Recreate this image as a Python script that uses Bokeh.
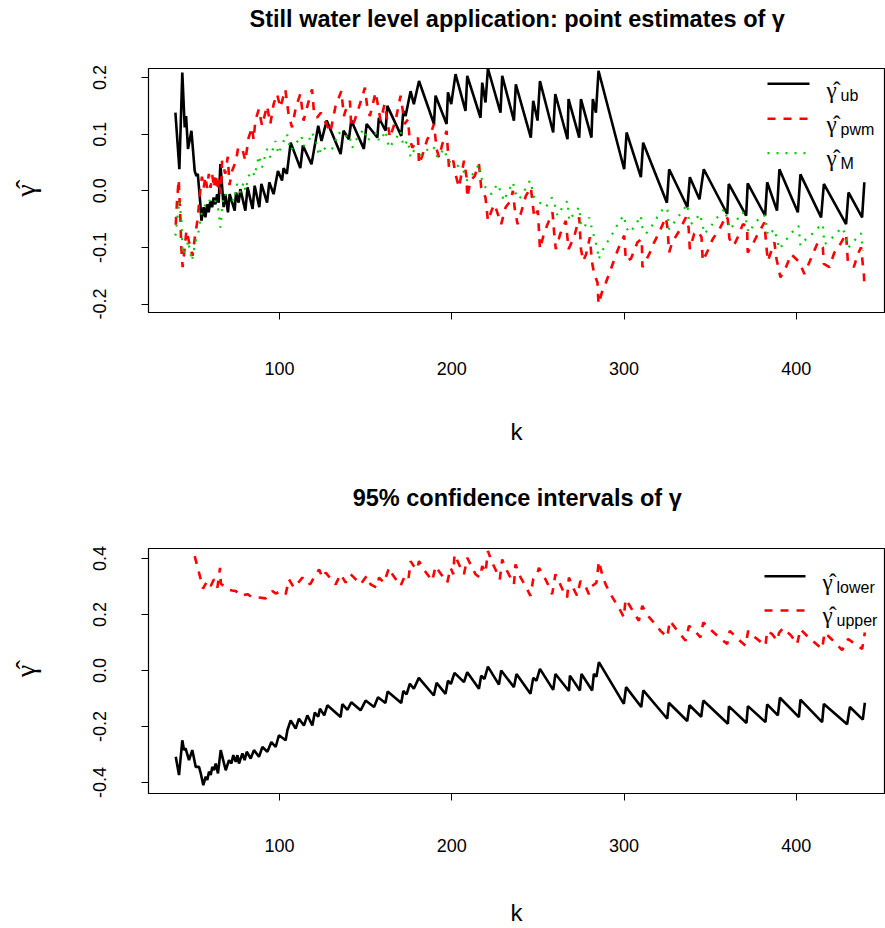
from bokeh.plotting import figure
from bokeh.layouts import column
from bokeh.models import Range1d, FixedTicker, PrintfTickFormatter, Arrow, Label
from bokeh.embed import file_html
from bokeh.resources import INLINE

# ---------------- data ----------------
UB = [(39.6, 0.138), (41.9, 0.038), (43.6, 0.209), (45.0, 0.112), (45.8, 0.132), (46.9, 0.074),
      (48.9, 0.106), (50.8, 0.035), (51.8, 0.026), (52.6, 0.030), (54.1, -0.024), (54.7, -0.053),
      (56.0, -0.029), (57.0, -0.047), (58.0, -0.024), (58.9, -0.038), (59.9, -0.018), (60.9, -0.029),
      (61.8, -0.012), (62.8, -0.024), (63.8, -0.006), (64.7, -0.021), (65.7, 0.047), (67.6, -0.029),
      (68.6, -0.006), (70.1, -0.038), (71.1, -0.006), (74.0, -0.035), (74.8, -0.003), (76.3, -0.021),
      (77.3, 0.003), (80.2, -0.035), (81.5, 0.006), (84.4, -0.032), (85.6, 0.009), (88.3, -0.029),
      (89.5, 0.012), (92.8, -0.021), (94.1, 0.015), (96.6, -0.006), (99.1, 0.035), (101.5, 0.018),
      (102.4, 0.040), (104.3, 0.030), (106.5, 0.085), (112.1, 0.040), (113.6, 0.080), (118.6, 0.047),
      (122.5, 0.115), (124.4, 0.088), (127.4, 0.124), (135.5, 0.065), (137.2, 0.106), (140.3, 0.091),
      (141.7, 0.124), (149.0, 0.074), (150.6, 0.118), (156.8, 0.094), (157.7, 0.129), (161.6, 0.106),
      (162.6, 0.150), (170.7, 0.097), (171.9, 0.141), (173.2, 0.132), (176.1, 0.176), (178.0, 0.153),
      (181.0, 0.194), (189.7, 0.118), (190.6, 0.168), (197.0, 0.118), (197.8, 0.174), (199.7, 0.153),
      (202.2, 0.206), (208.0, 0.141), (209.0, 0.203), (216.7, 0.129), (217.7, 0.191), (219.6, 0.156),
      (221.0, 0.216), (228.3, 0.138), (229.3, 0.203), (236.1, 0.124), (237.2, 0.188), (245.9, 0.094),
      (247.3, 0.159), (249.8, 0.124), (251.2, 0.194), (258.9, 0.103), (260.1, 0.171), (267.2, 0.091),
      (267.8, 0.162), (274.0, 0.094), (275.0, 0.162), (281.1, 0.094), (281.9, 0.162), (283.7, 0.138),
      (285.2, 0.212), (300.1, 0.038), (301.5, 0.103), (309.8, 0.024), (311.1, 0.085), (324.9, -0.021),
      (326.2, 0.038), (336.8, -0.029), (338.2, 0.024), (343.8, -0.015), (346.3, 0.038), (359.9, -0.041),
      (360.8, 0.012), (370.9, -0.044), (371.8, 0.013), (381.9, -0.044), (383.1, 0.015), (388.8, -0.035),
      (390.2, 0.038), (400.9, -0.038), (402.4, 0.029), (414.4, -0.047), (416.0, 0.012), (428.9, -0.059),
      (430.3, -0.003), (438.2, -0.047), (439.5, 0.015)]

PWM = [(39.8, -0.060), (40.5, -0.020), (41.5, 0.020), (42.5, -0.050), (43.0, -0.100), (43.8, -0.135),
       (45.0, -0.100), (46.0, -0.070), (47.5, -0.090), (49.5, -0.115), (51.0, -0.080), (52.5, -0.050),
       (54.0, 0.000), (55.0, 0.025), (56.0, 0.005), (57.0, 0.025), (58.0, 0.005), (59.0, 0.030),
       (60.0, 0.005), (61.0, 0.028), (62.0, 0.005), (63.0, 0.030), (64.0, 0.000), (65.0, 0.020),
       (66.0, -0.005), (66.7, 0.053), (68.5, 0.030), (70.0, 0.060), (71.0, 0.010), (72.5, 0.035),
       (74.8, 0.053), (76.0, 0.076), (78.3, 0.076), (80.2, 0.053), (82.1, 0.094), (84.1, 0.112),
       (85.0, 0.090), (86.0, 0.124), (88.0, 0.144), (89.9, 0.115), (92.8, 0.150), (94.7, 0.118),
       (96.6, 0.153), (98.6, 0.171), (100.5, 0.147), (103.4, 0.179), (105.3, 0.135), (107.3, 0.112),
       (109.5, 0.147), (112.1, 0.171), (114.0, 0.124), (116.5, 0.153), (118.9, 0.179), (120.0, 0.141),
       (121.8, 0.129), (124.0, 0.138), (126.0, 0.126), (129.5, 0.103), (132.6, 0.150), (135.9, 0.176),
       (137.4, 0.132), (138.3, 0.141), (140.9, 0.159), (141.7, 0.112), (143.6, 0.124), (146.7, 0.153),
       (149.6, 0.182), (151.0, 0.147), (152.5, 0.132), (155.8, 0.174), (157.4, 0.147), (158.7, 0.124),
       (161.0, 0.153), (162.6, 0.124), (164.1, 0.094), (167.4, 0.124), (170.3, 0.168), (171.9, 0.135),
       (172.6, 0.118), (174.6, 0.126), (175.5, 0.094), (177.1, 0.076), (179.6, 0.088), (180.4, 0.094),
       (181.0, 0.047), (182.9, 0.062), (185.8, 0.091), (187.7, 0.100), (189.7, 0.118), (191.2, 0.074),
       (192.6, 0.059), (194.5, 0.082), (197.0, 0.106), (198.4, 0.041), (200.9, 0.053), (202.2, 0.029),
       (204.2, 0.006), (207.1, 0.053), (208.6, 0.024), (209.0, -0.012), (210.9, 0.018), (213.3, 0.026),
       (215.8, 0.047), (217.1, 0.006), (219.6, -0.012), (221.0, -0.053), (223.5, -0.032), (224.9, -0.024),
       (228.7, -0.059), (231.3, -0.029), (234.1, -0.018), (235.5, 0.000), (236.5, -0.030), (238.2, -0.059),
       (240.0, -0.041), (243.0, -0.009), (245.9, 0.006), (247.9, -0.047), (250.0, -0.035), (251.2, -0.103),
       (253.5, -0.076), (255.6, -0.059), (258.5, -0.038), (259.5, -0.076), (260.4, -0.103), (263.0, -0.076),
       (266.2, -0.053), (267.8, -0.103), (271.0, -0.082), (274.0, -0.047), (275.0, -0.103), (276.3, -0.124),
       (278.0, -0.112), (280.2, -0.082), (281.3, -0.124), (282.7, -0.147), (284.6, -0.162), (285.2, -0.200),
       (287.5, -0.176), (289.5, -0.162), (292.4, -0.138), (296.2, -0.106), (298.2, -0.091), (300.1, -0.079),
       (301.1, -0.124), (304.0, -0.120), (307.8, -0.091), (310.3, -0.085), (310.7, -0.135), (314.6, -0.112),
       (317.5, -0.091), (320.0, -0.076), (324.3, -0.047), (325.2, -0.065), (326.2, -0.109), (328.0, -0.091),
       (332.0, -0.071), (335.9, -0.047), (337.5, -0.065), (338.2, -0.103), (340.7, -0.076), (342.8, -0.071),
       (345.0, -0.082), (345.7, -0.124), (348.6, -0.106), (351.5, -0.085), (355.4, -0.068), (359.3, -0.044),
       (360.2, -0.050), (361.2, -0.085), (363.7, -0.097), (366.0, -0.082), (369.0, -0.059), (371.4, -0.062),
       (371.8, -0.109), (374.8, -0.094), (376.7, -0.082), (381.5, -0.056), (382.5, -0.094), (383.5, -0.124),
       (387.3, -0.091), (388.5, -0.120), (390.8, -0.153), (394.0, -0.135), (397.0, -0.112), (401.8, -0.126),
       (404.7, -0.147), (409.6, -0.112), (412.5, -0.091), (415.4, -0.100), (416.0, -0.129), (419.2, -0.135),
       (422.1, -0.109), (425.0, -0.097), (428.9, -0.076), (429.9, -0.124), (433.4, -0.135), (435.7, -0.112),
       (437.6, -0.100), (439.2, -0.147), (439.6, -0.168)]

MLE = [(39.6, -0.079), (41.9, -0.018), (43.1, -0.053), (43.8, -0.112), (46.3, -0.100), (46.9, -0.088),
       (49.2, -0.124), (51.2, -0.090), (53.1, -0.071), (54.7, -0.041), (57.0, -0.024), (58.9, -0.015),
       (60.9, -0.024), (62.8, -0.018), (64.7, -0.035), (65.7, -0.065), (67.6, -0.006), (70.5, -0.009),
       (73.4, -0.018), (75.4, 0.012), (77.3, -0.003), (79.2, 0.015), (80.2, 0.000), (82.1, 0.026),
       (84.1, 0.035), (85.6, 0.026), (88.0, 0.062), (89.9, 0.041), (92.8, 0.074), (94.7, 0.059),
       (97.6, 0.088), (99.5, 0.065), (101.5, 0.082), (104.4, 0.100), (106.3, 0.071), (109.2, 0.082),
       (112.7, 0.097), (114.0, 0.079), (117.0, 0.088), (118.9, 0.103), (121.8, 0.082), (122.7, 0.062),
       (124.7, 0.079), (127.6, 0.071), (130.5, 0.074), (134.5, 0.103), (137.4, 0.094), (140.3, 0.100),
       (142.3, 0.076), (145.2, 0.094), (149.0, 0.109), (151.0, 0.088), (153.9, 0.097), (156.8, 0.103),
       (157.7, 0.088), (159.7, 0.094), (161.6, 0.106), (163.5, 0.076), (167.4, 0.091), (170.3, 0.106),
       (171.9, 0.079), (174.6, 0.089), (176.1, 0.059), (178.0, 0.071), (180.0, 0.068), (182.9, 0.062),
       (187.7, 0.079), (190.6, 0.074), (191.6, 0.059), (195.5, 0.074), (197.8, 0.053), (201.3, 0.047),
       (206.1, 0.041), (209.0, 0.018), (212.9, 0.032), (215.8, 0.047), (216.7, 0.026), (219.6, 0.006),
       (220.6, 0.000), (223.1, -0.006), (226.4, 0.012), (228.3, 0.000), (230.3, -0.018), (232.3, -0.003),
       (235.7, 0.015), (236.3, 0.000), (239.2, -0.015), (242.1, 0.000), (245.4, 0.018), (246.5, 0.006),
       (247.9, -0.012), (249.8, -0.018), (254.6, -0.029), (258.1, -0.012), (259.5, -0.021), (261.4, -0.044),
       (264.3, -0.029), (267.2, -0.018), (268.2, -0.053), (270.1, -0.044), (274.0, -0.029), (275.0, -0.062),
       (276.9, -0.065), (279.8, -0.047), (281.7, -0.071), (282.7, -0.082), (284.6, -0.103), (285.2, -0.121),
       (287.9, -0.103), (291.0, -0.087), (294.3, -0.071), (297.2, -0.053), (300.1, -0.044), (301.1, -0.065),
       (303.4, -0.074), (306.9, -0.059), (309.8, -0.044), (310.3, -0.062), (312.7, -0.076), (316.2, -0.062),
       (319.4, -0.046), (323.3, -0.029), (325.2, -0.034), (326.2, -0.068), (330.1, -0.052), (334.0, -0.035),
       (336.8, -0.024), (337.8, -0.059), (340.7, -0.056), (343.8, -0.041), (344.8, -0.050), (346.7, -0.076),
       (350.6, -0.062), (354.4, -0.046), (358.3, -0.032), (360.2, -0.053), (361.8, -0.068), (365.1, -0.053),
       (369.0, -0.038), (370.9, -0.053), (372.2, -0.074), (375.7, -0.059), (379.6, -0.044), (381.9, -0.044),
       (383.5, -0.079), (387.3, -0.068), (390.2, -0.103), (393.1, -0.091), (397.0, -0.075), (401.3, -0.062),
       (402.4, -0.097), (405.7, -0.085), (407.6, -0.082), (411.5, -0.068), (415.4, -0.059), (416.3, -0.094),
       (418.2, -0.091), (422.1, -0.079), (426.4, -0.065), (428.9, -0.079), (430.3, -0.100), (433.7, -0.088),
       (437.6, -0.075), (438.6, -0.106)]

LOWER = [(39.8, -0.308), (41.7, -0.373), (43.6, -0.249), (44.6, -0.284), (45.5, -0.278), (47.5, -0.320),
         (49.4, -0.284), (51.4, -0.344), (53.3, -0.344), (54.3, -0.367), (55.8, -0.409), (57.2, -0.379),
         (58.1, -0.391), (59.1, -0.361), (60.1, -0.373), (61.0, -0.344), (62.0, -0.356), (63.0, -0.332),
         (64.3, -0.367), (65.9, -0.284), (68.8, -0.356), (70.7, -0.320), (72.1, -0.332), (73.2, -0.302),
         (74.6, -0.326), (75.6, -0.302), (76.5, -0.332), (78.5, -0.296), (79.8, -0.320), (81.0, -0.290),
         (83.3, -0.314), (85.2, -0.284), (88.1, -0.308), (90.1, -0.273), (93.0, -0.290), (95.3, -0.255),
         (97.8, -0.273), (99.7, -0.231), (103.6, -0.249), (104.6, -0.213), (106.5, -0.178), (109.4, -0.207),
         (111.3, -0.172), (114.2, -0.196), (116.2, -0.160), (119.1, -0.196), (120.5, -0.150), (122.5, -0.165),
         (123.5, -0.136), (126.0, -0.160), (127.8, -0.124), (135.5, -0.166), (136.5, -0.120), (139.5, -0.140),
         (141.7, -0.113), (147.1, -0.142), (150.0, -0.107), (154.9, -0.130), (157.2, -0.095), (161.5, -0.116),
         (162.8, -0.075), (170.7, -0.116), (171.9, -0.073), (173.8, -0.085), (175.7, -0.047), (178.0, -0.065),
         (180.9, -0.026), (189.6, -0.089), (191.2, -0.044), (196.4, -0.083), (197.8, -0.036), (199.5, -0.048),
         (201.6, -0.008), (207.1, -0.041), (209.0, -0.006), (215.8, -0.065), (217.1, -0.018), (219.0, -0.030),
         (221.0, 0.014), (227.4, -0.050), (228.7, 0.000), (236.1, -0.059), (237.6, -0.012), (245.7, -0.083),
         (247.3, -0.026), (249.2, -0.036), (251.2, 0.006), (258.9, -0.069), (260.2, -0.012), (268.0, -0.073),
         (268.6, -0.018), (274.4, -0.071), (275.3, -0.012), (281.5, -0.071), (282.5, -0.012), (284.0, -0.022),
         (285.4, 0.030), (299.9, -0.119), (301.2, -0.059), (310.0, -0.130), (311.2, -0.071), (325.1, -0.172),
         (326.0, -0.115), (336.7, -0.180), (338.0, -0.124), (344.8, -0.165), (346.0, -0.107), (360.3, -0.190),
         (360.9, -0.128), (371.1, -0.187), (371.9, -0.127), (382.1, -0.184), (383.1, -0.121), (389.3, -0.160),
         (390.5, -0.097), (401.5, -0.166), (402.4, -0.104), (415.0, -0.184), (416.0, -0.119), (429.5, -0.192),
         (431.1, -0.130), (438.6, -0.175), (439.8, -0.115)]

UPPER = [(50.8, 0.409), (53.3, 0.350), (55.6, 0.293), (58.1, 0.320), (60.1, 0.302), (62.0, 0.326),
         (64.0, 0.296), (65.5, 0.367), (66.0, 0.310), (67.8, 0.302), (70.1, 0.290), (72.5, 0.286),
         (74.6, 0.284), (77.5, 0.267), (81.4, 0.273), (84.3, 0.261), (88.1, 0.261), (92.0, 0.258),
         (95.9, 0.284), (97.8, 0.275), (100.7, 0.284), (103.6, 0.273), (105.5, 0.326), (108.4, 0.296),
         (110.4, 0.310), (113.3, 0.332), (116.2, 0.308), (118.0, 0.310), (120.0, 0.332), (123.0, 0.361),
         (125.0, 0.332), (126.8, 0.350), (129.5, 0.330), (132.6, 0.308), (135.5, 0.344), (138.4, 0.314),
         (141.3, 0.344), (143.3, 0.332), (147.1, 0.308), (150.6, 0.338), (152.9, 0.308), (156.4, 0.296),
         (157.8, 0.332), (160.7, 0.314), (163.6, 0.367), (165.5, 0.344), (170.3, 0.302), (173.2, 0.344),
         (175.0, 0.332), (176.1, 0.391), (178.0, 0.373), (179.9, 0.361), (181.0, 0.391), (183.8, 0.361),
         (188.7, 0.320), (190.6, 0.373), (193.1, 0.350), (197.4, 0.314), (199.3, 0.367), (200.9, 0.344),
         (201.6, 0.415), (205.1, 0.367), (207.1, 0.344), (209.0, 0.403), (211.9, 0.367), (213.8, 0.344),
         (216.3, 0.332), (217.7, 0.373), (219.6, 0.350), (221.0, 0.427), (223.5, 0.385), (225.4, 0.361),
         (227.9, 0.326), (229.3, 0.397), (231.2, 0.367), (234.1, 0.332), (236.1, 0.308), (237.0, 0.379),
         (240.0, 0.332), (242.8, 0.302), (245.7, 0.267), (247.3, 0.326), (249.6, 0.344), (250.6, 0.367),
         (253.4, 0.338), (255.4, 0.314), (258.3, 0.273), (260.2, 0.344), (262.1, 0.320), (264.7, 0.284),
         (267.0, 0.261), (268.0, 0.332), (270.9, 0.290), (272.8, 0.267), (274.7, 0.320), (277.6, 0.302),
         (279.6, 0.273), (281.5, 0.302), (284.0, 0.314), (285.4, 0.391), (287.3, 0.344), (289.3, 0.308),
         (292.2, 0.273), (295.1, 0.243), (298.0, 0.213), (299.9, 0.190), (300.9, 0.255), (303.0, 0.235),
         (305.7, 0.207), (308.6, 0.178), (310.6, 0.231), (314.0, 0.195), (317.3, 0.172), (321.2, 0.142),
         (325.1, 0.119), (326.6, 0.178), (331.0, 0.142), (335.7, 0.107), (337.7, 0.160), (341.0, 0.142),
         (344.4, 0.119), (346.0, 0.172), (351.0, 0.142), (355.0, 0.120), (359.9, 0.095), (361.4, 0.142),
         (365.0, 0.119), (370.5, 0.089), (372.1, 0.142), (376.0, 0.119), (382.1, 0.089), (383.1, 0.142),
         (386.0, 0.130), (388.9, 0.107), (390.0, 0.135), (392.4, 0.152), (397.0, 0.125), (400.5, 0.095),
         (402.4, 0.148), (407.0, 0.119), (415.0, 0.077), (416.4, 0.136), (420.5, 0.112), (426.6, 0.073),
         (430.1, 0.113), (434.0, 0.095), (438.2, 0.077), (439.8, 0.136)]

X_TICKS = [100, 200, 300, 400]
Y_TICKS_TOP = [-0.2, -0.1, 0.0, 0.1, 0.2]
Y_TICKS_BOTTOM = [-0.4, -0.2, 0.0, 0.2, 0.4]

TITLE_TOP = "Still water level application: point estimates of  γ"
TITLE_BOTTOM = "95% confidence intervals of  γ"
GHAT = "γ\u0302"

SANS = "Liberation Sans"
SERIF = "Liberation Serif"
GREEN = "#00CD00"

FRAME_LEFT = 148   # page x of the plotting frames (the column aligns every frame to it)
TITLE_CENTER = 520  # page x of the title centres


def unzip(pairs):
    return [a for a, _ in pairs], [b for _, b in pairs]


def title_fig(text, height, center_from_top):
    t = figure(width=885, height=height, x_range=Range1d(0, 1), y_range=Range1d(0, 1),
               output_backend="svg", toolbar_location=None,
               min_border_left=FRAME_LEFT, min_border_right=1, min_border_top=0, min_border_bottom=0,
               x_axis_type=None, y_axis_type=None)
    t.outline_line_color = None
    t.xgrid.visible = False
    t.ygrid.visible = False
    t.background_fill_color = "white"
    t.border_fill_color = "white"
    t.add_layout(Label(x=TITLE_CENTER - FRAME_LEFT, y=height - center_from_top,
                       x_units="screen", y_units="screen",
                       text=text, text_font=SANS, text_font_size="23.5px", text_font_style="bold",
                       text_color="black", text_align="center", text_baseline="middle"))
    return t


def make_fig(yr, yticks, height, top, bottom, lab_standoff, k_standoff):
    p = figure(width=885, height=height, x_range=Range1d(23.98, 451.2), y_range=Range1d(*yr),
               output_backend="svg", toolbar_location=None,
               min_border_left=FRAME_LEFT, min_border_right=1, min_border_top=top, min_border_bottom=bottom)
    p.xgrid.visible = False
    p.ygrid.visible = False
    p.outline_line_color = "black"
    p.outline_line_width = 1.2
    p.background_fill_color = "white"
    p.border_fill_color = "white"
    for ax in (p.xaxis[0], p.yaxis[0]):
        ax.major_label_text_font = SANS
        ax.major_label_text_font_size = "18px"
        ax.major_label_text_color = "black"
        ax.major_tick_out = 7
        ax.major_tick_in = 0
        ax.minor_tick_line_color = None
        ax.axis_line_color = "black"
        ax.major_tick_line_color = "black"
        ax.axis_label_text_font_style = "normal"
        ax.axis_label_text_color = "black"
    xa = p.xaxis[0]
    xa.ticker = FixedTicker(ticks=X_TICKS)
    xa.major_label_standoff = lab_standoff
    xa.axis_label = "k"
    xa.axis_label_text_font = SANS
    xa.axis_label_text_font_size = "24px"
    xa.axis_label_standoff = k_standoff
    ya = p.yaxis[0]
    ya.ticker = FixedTicker(ticks=yticks)
    ya.formatter = PrintfTickFormatter(format="%.1f")
    ya.major_label_orientation = "vertical"
    ya.major_label_standoff = 35
    ya.axis_label = GHAT
    ya.axis_label_text_font = SERIF
    ya.axis_label_text_font_size = "28px"
    ya.axis_label_standoff = 50
    return p


def legend_row(p, x0, x1, y, color, dash, width, sub, ty, sy):
    p.add_layout(Arrow(end=None, x_start=x0, y_start=y, x_end=x1, y_end=y,
                       start_units="screen", end_units="screen",
                       line_color=color, line_width=width, line_dash=dash))
    p.add_layout(Label(x=x1 + 17, y=ty, x_units="screen", y_units="screen", text=GHAT,
                       text_font=SERIF, text_font_size="23px", text_color="black",
                       text_baseline="alphabetic", text_align="left"))
    p.add_layout(Label(x=x1 + 31, y=sy, x_units="screen", y_units="screen", text=sub,
                       text_font=SANS, text_font_size="16px", text_color="black",
                       text_baseline="alphabetic", text_align="left"))


# ---------------- top panel ----------------
t1 = title_fig(TITLE_TOP, 36, 18)
p1 = make_fig((-0.215, 0.216), Y_TICKS_TOP, 428, 32, 152, 42, 40)
k, g = unzip(UB)
p1.line(k, g, line_color="black", line_width=2.6)
k, g = unzip(PWM)
p1.line(k, g, line_color="#FF0000", line_width=2.6, line_dash="8 8")
k, g = unzip(MLE)
p1.line(k, g, line_color=GREEN, line_width=2.2, line_dash="2 7")
legend_row(p1, 619, 661, 228.7, "black", "solid", 2.6, "ub", 222, 217)
legend_row(p1, 619, 661, 193.7, "#FF0000", "8 8", 2.6, "pwm", 188, 183)
legend_row(p1, 619, 661, 159.3, GREEN, "2 7", 2.2, "M", 154, 149)

# ---------------- bottom panel ----------------
t2 = title_fig(TITLE_BOTTOM, 50, 33)
p2 = make_fig((-0.439, 0.436), Y_TICKS_BOTTOM, 414, 34, 135, 38, 44)
k, g = unzip(LOWER)
p2.line(k, g, line_color="black", line_width=2.6)
k, g = unzip(UPPER)
p2.line(k, g, line_color="#FF0000", line_width=2.6, line_dash="8 8")
legend_row(p2, 616, 657, 217.3, "black", "solid", 2.6, "lower", 211, 206)
legend_row(p2, 616, 657, 183.0, "#FF0000", "8 8", 2.6, "upper", 178, 173)

layout = column(t1, p1, t2, p2, spacing=0)
open("out.html", "w").write(file_html(layout, INLINE))
